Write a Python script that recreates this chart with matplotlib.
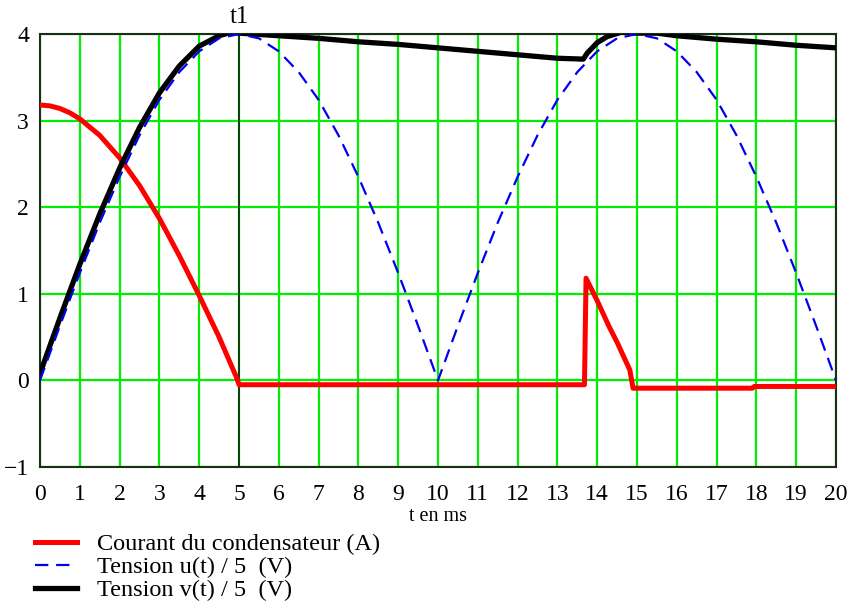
import numpy as np
import matplotlib.pyplot as plt

# temps en ms
t_u = [0, 0.5, 1, 1.5, 2, 2.5, 3, 3.5, 4, 4.5, 5, 5.5, 6, 6.5, 7, 7.5, 8, 8.5, 9, 9.5, 10,
       10.5, 11, 11.5, 12, 12.5, 13, 13.5, 14, 14.5, 15, 15.5, 16, 16.5, 17, 17.5, 18, 18.5, 19, 19.5, 20]
u_div5 = [0, 0.63, 1.24, 1.82, 2.35, 2.83, 3.24, 3.56, 3.80, 3.95, 4.00, 3.95, 3.80, 3.56, 3.24, 2.83, 2.35, 1.82, 1.24, 0.63, 0,
          0.63, 1.24, 1.82, 2.35, 2.83, 3.24, 3.56, 3.80, 3.95, 4.00, 3.95, 3.80, 3.56, 3.24, 2.83, 2.35, 1.82, 1.24, 0.63, 0]

t_v = [0, 0.5, 1, 1.5, 2, 2.5, 3, 3.5, 4, 4.5, 4.8, 5, 6, 7, 8, 9, 10, 11, 12, 13, 13.65,
       13.75, 14.0, 14.25, 14.6, 15, 15.5, 16, 17, 18, 19, 20]
v_div5 = [0.08, 0.72, 1.34, 1.92, 2.45, 2.92, 3.32, 3.63, 3.86, 3.98, 4.02, 4.01, 3.98, 3.95, 3.91, 3.88, 3.84, 3.80, 3.76, 3.72, 3.71,
          3.78, 3.90, 3.97, 4.02, 4.01, 4.01, 3.98, 3.94, 3.91, 3.87, 3.84]

t_i = [0, 0.25, 0.5, 0.75, 1, 1.5, 2, 2.5, 3, 3.5, 4, 4.5, 4.95, 5, 13.68, 13.72, 14.0, 14.3, 14.5, 14.82, 14.9, 17.9, 17.95, 20]
i_c = [3.18, 3.17, 3.14, 3.09, 3.02, 2.83, 2.57, 2.25, 1.87, 1.44, 0.98, 0.50, 0.02, -0.05, -0.05, 1.18, 0.92, 0.62, 0.44, 0.12, -0.09, -0.09, -0.07, -0.07]

x_ticks = list(range(0, 21))
y_ticks = [-1, 0, 1, 2, 3, 4]
t1 = 5

plt.rcParams['font.family'] = ['Liberation Serif', 'DejaVu Serif']

fig = plt.figure(figsize=(8.51, 6.03), dpi=100)
ax = fig.add_axes([40 / 851, 1 - 467 / 603, 796 / 851, 433 / 603])

for x in x_ticks:
    ax.axvline(x, color='#00ee00', lw=1.6, zorder=1)
for y in y_ticks:
    ax.axhline(y, color='#00ee00', lw=1.6, zorder=1)
ax.axvline(t1, color='#102010', lw=1.2, zorder=2)

l_i, = ax.plot(t_i, i_c, color='#ff0000', lw=3.6, zorder=3, label='Courant du condensateur (A)')
l_u, = ax.plot(t_u, u_div5, color='#0000ee', lw=1.6, dashes=(6, 3.5), zorder=4, label='Tension u(t) / 5  (V)')
l_v, = ax.plot(t_v, v_div5, color='black', lw=3.8, zorder=3, label='Tension v(t) / 5  (V)')

ax.set_xlim(0, 20)
ax.set_ylim(-1, 4)
ax.set_xticks(x_ticks)
ax.set_yticks(y_ticks)
ax.set_yticklabels(['\u22121', '0', '1', '2', '3', '4'])
ax.tick_params(axis='x', length=0, pad=12, labelsize=17)
ax.tick_params(axis='y', length=0, pad=8, labelsize=17)
for s in ax.spines.values():
    s.set_color('#1a2e1a')
    s.set_linewidth(1.5)
ax.set_xlabel('t en ms', fontsize=14.5, labelpad=1.5)
ax.text(t1, 4.07, 't1', ha='center', va='bottom', fontsize=18)

fig.legend(handles=[l_i, l_u, l_v], loc='upper left', bbox_to_anchor=(35 / 851, 1 - 533 / 603),
           frameon=False, fontsize=17.5, handlelength=1.73, handletextpad=0.82, labelspacing=0.05,
           borderpad=0, borderaxespad=0)

fig.savefig('out.png', dpi=100)
